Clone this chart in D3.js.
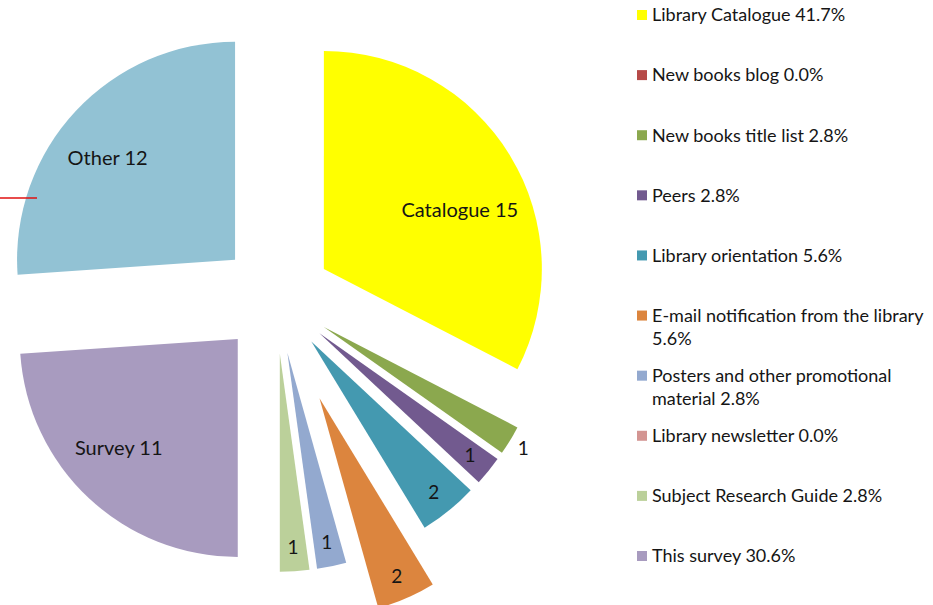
<!DOCTYPE html>
<html>
<head>
<meta charset="utf-8">
<script src="https://cdn.jsdelivr.net/npm/d3@7"></script>
<style>
  body { margin: 0; background: #fff; }
  svg { display: block; font-family: Lato, "Open Sans", sans-serif; }
</style>
</head>
<body>
<svg id="chart"></svg>
<script>
// slices in drawing order, clockwise from 12 o'clock
var legendNames = ["Library Catalogue", "New books blog", "New books title list", "Peers",
    "Library orientation", "E-mail notification from the library",
    "Posters and other promotional material", "Library newsletter",
    "Subject Research Guide", "This survey", "Other"];
var sliceNames = ["Catalogue", "", "", "", "", "", "", "", "", "Survey", "Other"];
var counts = [15, 0, 1, 1, 2, 2, 1, 0, 1, 11, 12];
var colors = ["#ffff00", "#b64a48", "#8ba84e", "#725a8f", "#4499b0", "#dc853e",
    "#93a9cf", "#d39592", "#bbd09a", "#a89bbf", "#92c2d4"];
var respondents = 36;   // legend percentages are of 36 respondents
var inLegend = 10;      // "Other" has no legend entry
var outsideLabel = ["New books title list"];
var fartherOut = ["E-mail notification from the library"];

var W = 933, H = 605;
var svg = d3.select("#chart").attr("width", W).attr("height", H);

var cx = 276, cy = 298, r = 218, explode = 56;

var pie = d3.pie().sort(null).value(function(d) { return d.count; });
var arc = d3.arc().innerRadius(0).outerRadius(r);

var rows = legendNames.map(function(n, i) {
    return {name: n, label: sliceNames[i], count: counts[i], color: colors[i]};
});
var arcs = pie(rows);

function mid(a) { return (a.startAngle + a.endAngle) / 2; }
function offset(a) {
    var d = fartherOut.indexOf(a.data.name) >= 0 ? explode * 1.95 : explode;
    return [Math.sin(mid(a)) * d, -Math.cos(mid(a)) * d];
}

var g = svg.append("g").attr("transform", "translate(" + cx + "," + cy + ")");

var slice = g.selectAll(".slice")
    .data(arcs.filter(function(a) { return a.data.count > 0; }))
    .enter().append("g")
    .attr("class", "slice")
    .attr("transform", function(a) { var o = offset(a); return "translate(" + o[0] + "," + o[1] + ")"; });

slice.append("path")
    .attr("d", arc)
    .attr("fill", function(a) { return a.data.color; });

slice.each(function(a) {
    var s = d3.select(this);
    var x, y;
    if (a.data.label) {
        // big slices: across by angle, down to the middle of the slice box
        var bb = s.select("path").node().getBBox();
        var k = Math.sin(mid(a)) > 0 ? 0.73 : 0.8;
        x = Math.sin(mid(a)) * r * k;
        y = bb.y + bb.height / 2;
    } else {
        var k2 = outsideLabel.indexOf(a.data.name) >= 0 ? 1.07 : 0.89;
        x = Math.sin(mid(a)) * r * k2;
        y = -Math.cos(mid(a)) * r * k2;
    }
    s.append("text")
        .attr("x", x).attr("y", y)
        .attr("text-anchor", "middle")
        .attr("dy", "0.35em")
        .attr("font-size", a.data.label ? 20 : 19)
        .attr("fill", "#151515")
        .text((a.data.label ? a.data.label + " " : "") + a.data.count);
});

// small red leader line at the left edge
svg.append("line")
    .attr("x1", 0).attr("x2", 37)
    .attr("y1", 198).attr("y2", 198)
    .attr("stroke", "#e01010").attr("stroke-width", 1.5);

// legend
var legendRows = rows.slice(0, inLegend);
var pct = d3.format(".1%");
var ly = d3.scalePoint().domain(legendRows.map(function(d) { return d.name; })).range([15, 556]);

var leg = svg.append("g").attr("class", "legend");
var item = leg.selectAll(".item").data(legendRows).enter().append("g")
    .attr("class", "item")
    .attr("transform", function(d) { return "translate(637," + ly(d.name) + ")"; });

item.append("rect")
    .attr("x", 0).attr("y", -5)
    .attr("width", 10).attr("height", 10)
    .attr("fill", function(d) { return d.color; });

item.append("text")
    .attr("x", 15)
    .attr("font-size", 18)
    .attr("fill", "#151515")
    .each(function(d) {
        var t = d3.select(this);
        var words = (d.name + " " + pct(d.count / respondents)).split(" ");
        var line = [];
        var ts = t.append("tspan").attr("x", 15).attr("dy", "0.35em");
        words.forEach(function(w) {
            line.push(w);
            ts.text(line.join(" "));
            if (ts.node().getComputedTextLength() > 282 && line.length > 1) {
                line.pop();
                ts.text(line.join(" "));
                line = [w];
                ts = t.append("tspan").attr("x", 15).attr("dy", "1.3em").text(w);
            }
        });
    });
</script>
</body>
</html>
